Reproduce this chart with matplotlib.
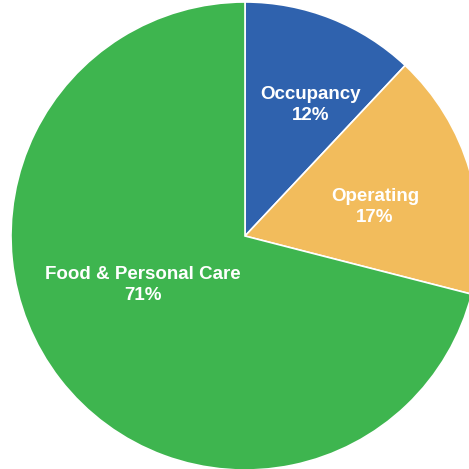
import matplotlib.pyplot as plt

labels = ['Occupancy', 'Operating', 'Food & Personal Care']
shares = [12, 17, 71]
colors = ['#2F62AE', '#F2BC5C', '#3EB54F']

# label spots in pie units (radius = 1)
label_xy = [(0.28, 0.56), (0.555, 0.125), (-0.435, -0.21)]

fig = plt.figure(figsize=(4.69, 4.69), dpi=100)
ax = fig.add_axes([0, 0, 1, 1])
r_px = 234
cx, cy = 245, 236
ax.pie(shares, colors=colors, startangle=90, counterclock=False,
       wedgeprops=dict(edgecolor='white', linewidth=1.2))
ax.set_xlim(-cx / r_px, (469 - cx) / r_px)
ax.set_ylim(-(469 - cy) / r_px, cy / r_px)
ax.set_aspect('equal')
ax.axis('off')

for name, val, (x, y) in zip(labels, shares, label_xy):
    ax.text(x, y, f'{name}\n{val}%', ha='center', va='center', color='white',
            fontsize=13.5, fontweight='bold', family='Liberation Sans',
            linespacing=1.3)

fig.savefig('out.png', dpi=100)
